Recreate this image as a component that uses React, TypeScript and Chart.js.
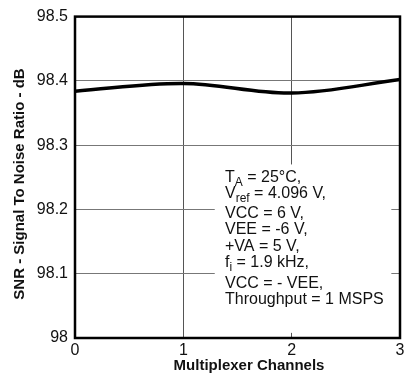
import React, { useEffect, useRef } from "react";
import { Chart, registerables } from "chart.js";

Chart.register(...registerables);

const channels = [0, 1, 2, 3];
const snrValues = [98.384, 98.396, 98.381, 98.402];
const yTicks = [98, 98.1, 98.2, 98.3, 98.4, 98.5];
const xTitle = "Multiplexer Channels";
const yTitle = "SNR - Signal To Noise Ratio - dB";
// each line: [main, subscript, rest]
const noteLines: [string, string, string][] = [
  ["T", "A", " = 25°C,"],
  ["V", "ref", " = 4.096 V,"],
  ["VCC = 6 V,", "", ""],
  ["VEE = -6 V,", "", ""],
  ["+VA = 5 V,", "", ""],
  ["f", "i", " = 1.9 kHz,"],
  ["VCC = - VEE,", "", ""],
  ["Throughput = 1 MSPS", "", ""],
];
const noteBaselines = [182, 198, 218, 234, 251, 267, 288, 304];

const FONT = "'Liberation Sans', Arial, sans-serif";

const overlayPlugin = {
  id: "overlay",
  beforeDatasetsDraw(chart: any) {
    const ctx = chart.ctx;
    const xs = chart.scales.x;
    const ys = chart.scales.y;
    ctx.save();
    // white box behind annotation
    ctx.fillStyle = "#ffffff";
    ctx.fillRect(xs.getPixelForValue(1.29), ys.getPixelForValue(98.27), xs.getPixelForValue(2.92) - xs.getPixelForValue(1.29), ys.getPixelForValue(98.008) - ys.getPixelForValue(98.27));
    ctx.fillStyle = "#111";
    ctx.textBaseline = "alphabetic";
    ctx.textAlign = "left";
    const x0 = 225;
    noteLines.forEach((ln, i) => {
      const by = noteBaselines[i];
      let x = x0;
      ctx.font = `16px ${FONT}`;
      ctx.fillText(ln[0], x, by);
      x += ctx.measureText(ln[0]).width;
      if (ln[1]) {
        ctx.font = `12px ${FONT}`;
        ctx.fillText(ln[1], x, by + 4);
        x += ctx.measureText(ln[1]).width;
      }
      if (ln[2]) {
        ctx.font = `16px ${FONT}`;
        ctx.fillText(ln[2], x, by);
      }
    });
    ctx.restore();
  },
  afterDraw(chart: any) {
    const ctx = chart.ctx;
    const a = chart.chartArea;
    ctx.save();
    ctx.strokeStyle = "#000";
    ctx.lineWidth = 2.5;
    ctx.strokeRect(a.left, a.top, a.right - a.left, a.bottom - a.top);
    ctx.fillStyle = "#111";
    ctx.font = `bold 15px ${FONT}`;
    ctx.textAlign = "center";
    ctx.textBaseline = "middle";
    ctx.fillText(xTitle, 249, 366);
    ctx.translate(20, 184);
    ctx.rotate(-Math.PI / 2);
    ctx.fillText(yTitle, 0, 0);
    ctx.restore();
  },
};

export default function App() {
  const ref = useRef<HTMLCanvasElement>(null);
  useEffect(() => {
    if (!ref.current) return;
    const chart = new Chart(ref.current, {
      type: "line",
      data: {
        datasets: [
          {
            data: channels.map((c, i) => ({ x: c, y: snrValues[i] })),
            borderColor: "#000",
            borderWidth: 3.5,
            pointRadius: 0,
            tension: 0.35,
            fill: false,
          },
        ],
      },
      options: {
        responsive: false,
        animation: false,
        layout: { padding: { top: 13, right: 13, left: 0, bottom: 0 } },
        plugins: { legend: { display: false }, tooltip: { enabled: false } },
        scales: {
          x: {
            type: "linear",
            min: 0,
            max: 3,
            afterFit: (s: any) => {
              s.height = 41;
            },
            ticks: {
              stepSize: 1,
              padding: 3,
              color: "#111",
              font: { family: FONT, size: 16 },
              callback: (v: any) => String(v),
            },
            grid: {
              drawTicks: false,
              color: (c: any) => (c.tick && (c.tick.value === 0 || c.tick.value === 3) ? "rgba(0,0,0,0)" : "#555"),
              lineWidth: 1,
            },
            border: { display: false },
          },
          y: {
            type: "linear",
            min: 98,
            max: 98.5,
            afterFit: (s: any) => {
              s.width = 75;
            },
            afterBuildTicks: (s: any) => {
              s.ticks = yTicks.map((v) => ({ value: v }));
            },
            ticks: {
              padding: 7,
              color: "#111",
              font: { family: FONT, size: 16 },
              callback: (v: any) => String(+Number(v).toFixed(1)),
            },
            grid: {
              drawTicks: false,
              color: (c: any) => (c.tick && (Math.abs(c.tick.value - 98) < 1e-6 || Math.abs(c.tick.value - 98.5) < 1e-6) ? "rgba(0,0,0,0)" : "#777"),
              lineWidth: 1,
            },
            border: { display: false },
          },
        },
      },
      plugins: [overlayPlugin],
    });
    return () => chart.destroy();
  }, []);
  return (
    <div style={{ position: "absolute", left: 0, top: 0, width: 413, height: 379, background: "#fff" }}>
      <canvas ref={ref} width={413} height={379} />
    </div>
  );
}
